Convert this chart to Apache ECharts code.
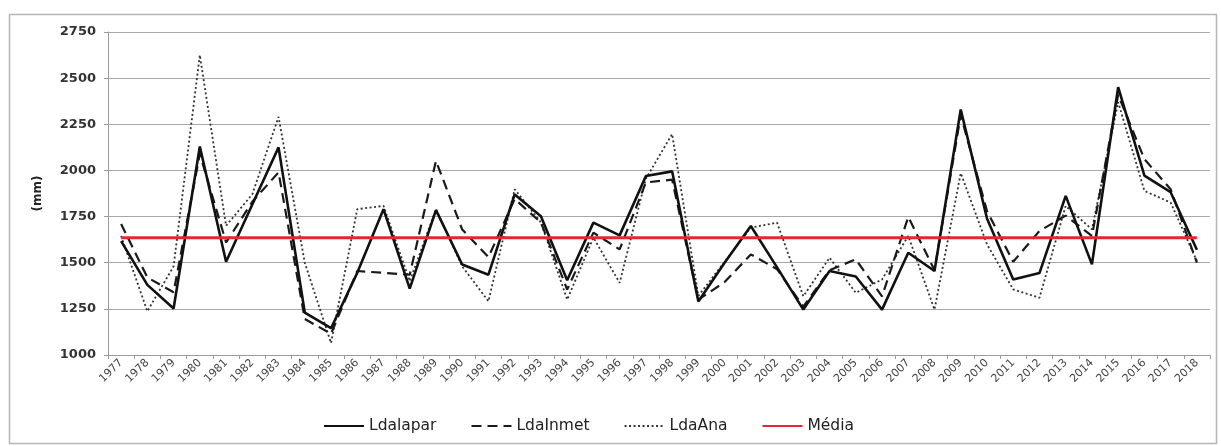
<!DOCTYPE html>
<html>
<head>
<meta charset="utf-8">
<script src="https://cdn.jsdelivr.net/npm/echarts@6/dist/echarts.min.js"></script>
<style>
  html, body { margin: 0; padding: 0; background: #fff; }
  #chart { width: 1221px; height: 446px; }
</style>
</head>
<body>
<div id="chart"></div>
<script>
// Annual rainfall (mm), 1977–2018
const years = [
  '1977','1978','1979','1980','1981','1982','1983','1984','1985','1986',
  '1987','1988','1989','1990','1991','1992','1993','1994','1995','1996',
  '1997','1998','1999','2000','2001','2002','2003','2004','2005','2006',
  '2007','2008','2009','2010','2011','2012','2013','2014','2015','2016',
  '2017','2018'
];

const ldaIapar = [
  1617, 1380, 1252, 2130, 1505, 1815, 2125, 1230, 1145, 1445,
  1790, 1360, 1785, 1490, 1435, 1870, 1752, 1405, 1717, 1648,
  1970, 1995, 1290, 1500, 1699, 1475, 1246, 1455, 1425, 1246,
  1554, 1455, 2330, 1740, 1409, 1444, 1862, 1491, 2451, 1972,
  1882, 1570
];

const ldaInmet = [
  1710, 1420, 1340, 2090, 1610, 1830, 1990, 1195, 1115, 1455,
  1445, 1435, 2052, 1680, 1530, 1845, 1718, 1355, 1663, 1572,
  1935, 1950, 1300, 1395, 1545, 1465, 1262, 1460, 1518, 1318,
  1748, 1460, 2300, 1780, 1505, 1672, 1755, 1645, 2410, 2061,
  1898, 1500
];

const ldaAna = [
  1645, 1237, 1480, 2625, 1700, 1871, 2290, 1500, 1065, 1790,
  1808, 1400, 1790, 1480, 1291, 1898, 1718, 1300, 1636, 1391,
  1955, 2197, 1320, 1505, 1690, 1717, 1318, 1527, 1337, 1409,
  1645, 1246, 1985, 1600, 1355, 1310, 1808, 1681, 2370, 1889,
  1826, 1509
];

const mediaValue = 1635;
const media = years.map(() => mediaValue);

const yTicks = { min: 1000, max: 2750, interval: 250 };

const chart = echarts.init(document.getElementById('chart'), null, { renderer: 'canvas' });

const fontFamily = '"DejaVu Sans", "Liberation Sans", Arial, sans-serif';

chart.setOption({
  animation: false,
  backgroundColor: '#ffffff',
  graphic: [{
    type: 'rect',
    left: 7, top: 12,
    shape: { width: 1207, height: 429 },
    style: { fill: 'none', stroke: '#b5b5b5', lineWidth: 1.5 },
    silent: true,
    z: -1
  }],
  grid: { left: 108, right: 11, top: 32, bottom: 91 },
  legend: {
    top: 413,
    left: 318,
    itemWidth: 40,
    itemHeight: 10,
    itemGap: 34,
    itemStyle: { opacity: 0 },
    textStyle: { fontFamily, fontSize: 15.5, color: '#222', padding: [0, 0, 0, 0] },
    data: ['Ldalapar', 'LdaInmet', 'LdaAna', 'Média']
  },
  xAxis: {
    type: 'category',
    data: years,
    boundaryGap: true,
    axisLine: { lineStyle: { color: '#9a9a9a', width: 1 } },
    axisTick: { show: true, length: 4, lineStyle: { color: '#9a9a9a' } },
    axisLabel: {
      rotate: 45,
      interval: 0,
      fontFamily,
      fontSize: 11,
      color: '#444',
      margin: 6
    },
    splitLine: { show: false }
  },
  yAxis: {
    type: 'value',
    min: yTicks.min,
    max: yTicks.max,
    interval: yTicks.interval,
    name: '(mm)',
    nameLocation: 'middle',
    nameGap: 64,
    nameRotate: 90,
    nameTextStyle: { fontFamily, fontSize: 12, fontWeight: 'bold', color: '#222' },
    axisLine: { show: true, lineStyle: { color: '#9a9a9a', width: 1 } },
    axisTick: { show: true, length: 4, lineStyle: { color: '#9a9a9a' } },
    axisLabel: {
      fontFamily, fontSize: 13, fontWeight: 'bold', color: '#333', margin: 12,
      formatter: (v) => String(v)
    },
    splitLine: { show: true, lineStyle: { color: '#a8a8a8', width: 1.2 } }
  },
  series: [
    {
      name: 'Ldalapar',
      type: 'line',
      data: ldaIapar,
      symbol: 'none',
      lineStyle: { color: '#111', width: 2.6, type: 'solid' },
      itemStyle: { color: '#111' },
      z: 4
    },
    {
      name: 'LdaInmet',
      type: 'line',
      data: ldaInmet,
      symbol: 'none',
      lineStyle: { color: '#1a1a1a', width: 2.2, type: [10, 6] },
      itemStyle: { color: '#1a1a1a' },
      z: 3
    },
    {
      name: 'LdaAna',
      type: 'line',
      data: ldaAna,
      symbol: 'none',
      lineStyle: { color: '#333', width: 1.8, type: [2, 2.5] },
      itemStyle: { color: '#333' },
      z: 2
    },
    {
      name: 'Média',
      type: 'line',
      data: media,
      symbol: 'none',
      lineStyle: { color: '#e8262f', width: 3 },
      itemStyle: { color: '#e8262f' },
      z: 5
    }
  ]
});
</script>
</body>
</html>
